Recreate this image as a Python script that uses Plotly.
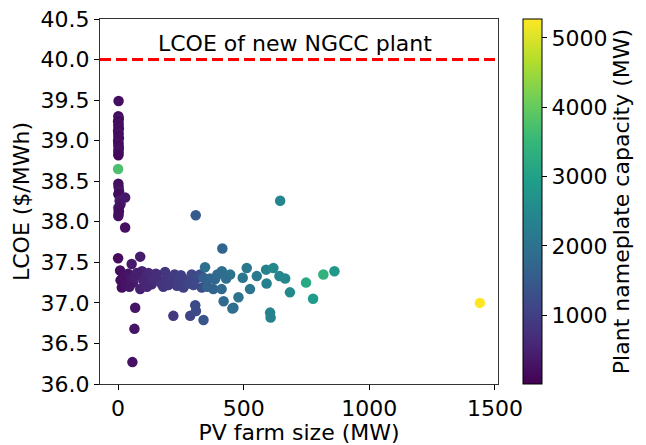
import plotly.graph_objects as go

# PV farm size (MW)
pv_mw = [
    2, 1, 3, 0, 2, 1, 3, 0, 2, 1, 3, 0, 2, 1, 3, 1, 2, 1,
    0, 0, 1, 2, 4, 1, 28, 6, 10, 4, 3, 2, 1, 28,
    0, 8, 15, 20, 10, 25, 30, 40, 54, 54, 60, 70, 88, 88, 95, 100, 110,
    121, 125, 134, 140, 154, 160, 174, 187, 195, 205, 214, 225, 234, 245,
    260, 270, 293, 310, 326, 333, 340, 346, 366, 386, 379, 413, 412, 420,
    446, 459, 479, 496, 512, 525, 552, 589, 618, 591, 642, 665, 684,
    605, 607, 748, 776, 817, 861, 1440, 309, 645, 415,
    68, 65, 57, 220, 287, 307, 310, 340, 455,
    45, 75, 115, 150, 180, 200, 250, 280, 300, 355, 395, 430,
]
# Levelized cost of electricity ($/MWh)
lcoe = [
    39.49, 39.30, 39.27, 39.24, 39.21, 39.18, 39.15, 39.12, 39.09, 39.06, 39.03, 39.00,
    38.97, 38.94, 38.91, 38.88, 38.85, 38.82,
    38.65, 38.17, 38.47, 38.43, 38.38, 38.34, 38.30, 38.26, 38.22, 38.18, 38.13, 38.10, 38.07, 37.93,
    37.55, 37.40, 37.19, 37.35, 37.28, 37.30, 37.22, 37.36, 37.48, 37.30, 37.25, 37.34, 37.57, 37.17,
    37.39, 37.28, 37.33,
    37.37, 37.25, 37.23, 37.31, 37.35, 37.28, 37.23, 37.38, 37.30, 37.26, 37.31, 37.35, 37.21, 37.30,
    37.19, 37.28, 37.35, 37.30, 37.35, 37.19, 37.31, 37.44, 37.30, 37.29, 37.17, 37.39, 37.17, 37.02,
    37.35, 36.94, 37.07, 37.31, 37.43, 37.17, 37.33, 37.41, 37.43, 37.24, 37.33, 37.30, 37.13,
    36.88, 36.82, 37.25, 37.05, 37.35, 37.39, 37.00, 38.08, 38.26, 37.67,
    36.94, 36.68, 36.27, 36.84, 36.84, 36.97, 36.90, 36.79, 36.93,
    37.20, 37.37, 37.20, 37.36, 37.20, 37.22, 37.34, 37.24, 37.22, 37.20, 37.35, 37.30,
]
# Plant nameplate capacity (MW)
capacity = [
    200, 150, 300, 120, 250, 180, 220, 160, 280, 140, 200, 170, 230, 150, 190, 260, 210, 130,
    3750, 2500, 180, 220, 300, 160, 350, 400, 300, 250, 200, 180, 220, 250,
    150, 200, 220, 250, 180, 260, 280, 300, 380, 400, 420, 450, 400, 500, 520, 540, 560,
    600, 620, 650, 680, 720, 740, 780, 820, 850, 880, 900, 930, 950, 980,
    1020, 1050, 1150, 1200, 1250, 1280, 1600, 1900, 1700, 1750, 1700, 1900, 1800, 1800,
    2000, 1900, 2000, 2050, 2100, 2050, 2150, 2350, 2500, 2300, 2400, 2450, 2500,
    2350, 2300, 3200, 2900, 3400, 2800, 5300, 1500, 2400, 1700,
    300, 300, 250, 900, 1100, 1200, 1200, 1400, 1900,
    320, 450, 580, 700, 800, 880, 1000, 1100, 1180, 1650, 1800, 1900,
]

ngcc_lcoe = 40.0
ngcc_label = "LCOE of new NGCC plant"
x_ticks = [0, 500, 1000, 1500]
y_ticks = [36.0, 36.5, 37.0, 37.5, 38.0, 38.5, 39.0, 39.5, 40.0, 40.5]
cbar_ticks = [1000, 2000, 3000, 4000, 5000]

FONT = "DejaVu Sans"
fig = go.Figure()
fig.add_trace(go.Scatter(
    x=pv_mw, y=lcoe, mode="markers",
    marker=dict(
        size=10.5, color=capacity, colorscale="Viridis", cmin=7, cmax=5273,
        line=dict(width=0),
        colorbar=dict(
            x=1.063, xanchor="left", xpad=0, y=0.5, yanchor="middle", ypad=0,
            len=1, lenmode="fraction", thickness=19,
            outlinewidth=1, outlinecolor="black",
            tickvals=cbar_ticks, ticks="outside", ticklen=5, tickcolor="black",
            tickfont=dict(family=FONT, size=22, color="black"),
            title=dict(text="Plant nameplate capacity (MW)", side="right",
                       font=dict(family=FONT, size=22, color="black")),
        ),
    ),
    showlegend=False, hoverinfo="skip",
))

fig.add_shape(type="line", xref="paper", x0=0, x1=1, yref="y", y0=ngcc_lcoe, y1=ngcc_lcoe,
              line=dict(color="#ff0000", width=3, dash="11px,5px"))
fig.add_annotation(x=704, y=40.2, text=ngcc_label, showarrow=False,
                   xanchor="center", yanchor="middle",
                   font=dict(family=FONT, size=22, color="black"))

axis_common = dict(showline=True, mirror=True, linecolor="#333333", linewidth=1,
                   ticks="outside", ticklen=5, tickwidth=1, tickcolor="black",
                   showgrid=False, zeroline=False, automargin=False,
                   tickfont=dict(family=FONT, size=22, color="black"))
fig.update_xaxes(range=[-72, 1512], tickvals=x_ticks,
                 title=dict(text="PV farm size (MW)", font=dict(family=FONT, size=22, color="black"), standoff=2),
                 **axis_common)
fig.update_yaxes(range=[36.0, 40.5], tickvals=y_ticks, tickformat=".1f",
                 title=dict(text="LCOE ($/MWh)", font=dict(family=FONT, size=22, color="black"), standoff=4),
                 **axis_common)
fig.update_layout(width=646, height=445,
                  margin=dict(l=100, r=148, t=19, b=61, autoexpand=False),
                  plot_bgcolor="white", paper_bgcolor="white")
fig.write_html("out.html")
